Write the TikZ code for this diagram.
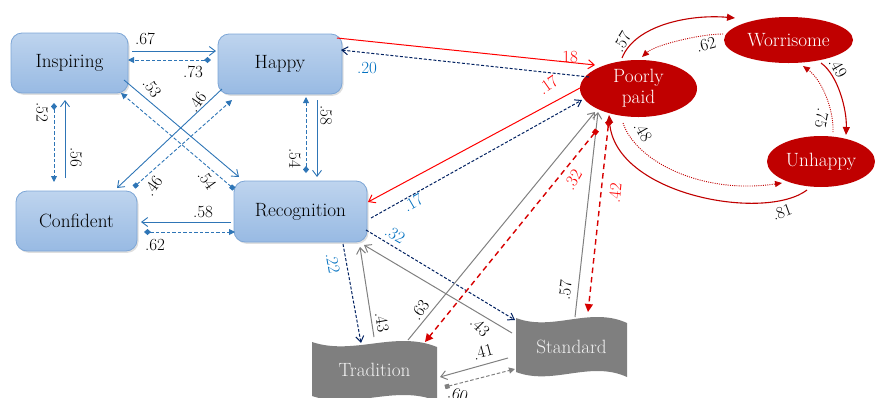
\documentclass[tikz,border=0pt]{standalone}
\usepackage{fontspec}
\usetikzlibrary{arrows.meta,calc,shapes.geometric,shadows}
\definecolor{blueln}{RGB}{46,117,182}
\definecolor{navyln}{RGB}{0,32,96}
\definecolor{redln}{RGB}{255,0,0}
\definecolor{dred}{RGB}{192,0,0}
\definecolor{dashred}{RGB}{215,0,0}
\definecolor{grayln}{RGB}{128,128,128}
\definecolor{waveg}{RGB}{127,127,127}
\definecolor{wavetext}{RGB}{242,242,242}
\definecolor{boxtop}{RGB}{190,212,238}
\definecolor{boxbot}{RGB}{152,186,227}
\definecolor{boxdraw}{RGB}{125,166,214}
\definecolor{bluelab}{RGB}{0,112,192}
\definecolor{redlab}{RGB}{255,0,0}
\newcommand\nodefnt{\rmfamily\fontsize{19.2}{21}\selectfont}
\newcommand\labfnt{\rmfamily\fontsize{17}{19}\selectfont}
\begin{document}
\begin{tikzpicture}[x=1pt,y=-1pt,
  bbox/.style={rectangle, rounded corners=11pt, draw=boxdraw, line width=0.8pt,
    top color=boxtop, bottom color=boxbot, font=\nodefnt, inner sep=0pt,
    drop shadow={shadow xshift=1.5pt, shadow yshift=-1.8pt, opacity=0.25}},
  redell/.style={ellipse, fill=dred, text=white, font=\nodefnt, inner sep=0pt, align=center},
  wavetxt/.style={rectangle, text=wavetext, font=\nodefnt, inner sep=0pt},
  lab/.style={font=\labfnt, inner sep=0pt},
  opentip/.style={-{Straight Barb[length=6pt,width=9pt]}},
  bsol/.style={draw=blueln, line width=0.9pt, opentip},
  bdashd/.style={draw=blueln, line width=0.9pt, dash pattern=on 3.5pt off 2pt,
    arrows={Diamond[length=7pt,width=6pt]-Triangle[length=6pt,width=6pt]}},
  bdashs/.style={draw=blueln, line width=0.9pt, dash pattern=on 3.5pt off 2pt,
    arrows={Square[length=4.5pt,width=4.5pt]-Triangle[length=6pt,width=6pt]}},
  rsol/.style={draw=redln, line width=1pt, opentip},
  ndash/.style={draw=navyln, line width=1pt, dash pattern=on 3pt off 1.8pt,
    -{Straight Barb[length=6pt,width=8pt]}},
  gsol/.style={draw=grayln, line width=1pt, opentip},
  gdash/.style={draw=grayln, line width=1pt, dash pattern=on 3.5pt off 2pt,
    arrows={Square[length=4.5pt,width=4.5pt]-Triangle[length=6pt,width=6pt]}},
  rdashs/.style={draw=dashred, line width=1.4pt, dash pattern=on 5.5pt off 4pt,
    arrows={Square[length=5pt,width=5pt]-Triangle[length=8pt,width=8pt]}},
  rdashd/.style={draw=dashred, line width=1.4pt, dash pattern=on 5.5pt off 4pt,
    arrows={Diamond[length=8pt,width=7pt]-Triangle[length=8pt,width=8pt]}},
  csol/.style={draw=dred, line width=1.1pt, -{Triangle[length=8pt,width=7pt]}},
  cdot/.style={draw=dred, line width=0.9pt, dash pattern=on 1pt off 1.2pt,
    -{Triangle[length=7pt,width=6pt]}}
]
\useasboundingbox (0,0) rectangle (875,397);

% ---- boxes ----
\node[bbox, minimum width=117pt, minimum height=60pt] (insp) at (69.5,63) {Inspiring};
\node[bbox, minimum width=124pt, minimum height=60pt] (happy) at (280,64) {Happy};
\node[bbox, minimum width=121pt, minimum height=60pt] (conf) at (76.5,221) {Confident};
\node[bbox, minimum width=133pt, minimum height=61pt] (rec) at (300.5,211.5) {Recognition};

% ---- ellipses ----
\node[redell, minimum width=117pt, minimum height=57pt, inner ysep=-8pt] (pp) at (638.5,88.5) {Poorly\\paid};
\node[redell, minimum width=129pt, minimum height=46pt] (wor) at (788.5,40) {Worrisome};
\node[redell, minimum width=108pt, minimum height=51pt] (unh) at (821,161.5) {Unhappy};

% ---- wave shapes ----
\fill[waveg] (516,318) .. controls (553,332) and (590,306) .. (627,323) -- (627,377)
  .. controls (590,360) and (553,386) .. (516,372) -- cycle;
\node[wavetxt] (stand) at (571.5,347) {Standard};
\fill[waveg] (312,342) .. controls (354,356) and (395,330) .. (437,347) -- (437,401)
  .. controls (395,384) and (354,410) .. (312,396) -- cycle;
\node[wavetxt] (trad) at (374.5,370) {Tradition};

% ---- blue group connectors ----
\draw[bsol] ($(insp.center)+(62.5,-12)$) -- ($(happy.center)+(-64,-13)$);
\draw[bdashd] ($(happy.center)+(-69,-4)$) -- ($(insp.center)+(58.5,-3)$);
\draw[bdashd] ($(insp.center)+(-15.5,40)$) -- ($(conf.center)+(-22.5,-39)$);
\draw[bsol] ($(conf.center)+(-11.5,-43)$) -- ($(insp.center)+(-4.5,37)$);
\draw[bsol] ($(insp.center)+(54.5,17)$) -- ($(rec.center)+(-61.5,-34.5)$);
\draw[bdashs] ($(rec.center)+(-66.5,-22.5)$) -- ($(insp.center)+(51.5,30)$);
\draw[bsol] ($(happy.center)+(-58,25)$) -- ($(conf.center)+(40.5,-33)$);
\draw[bdashs] ($(conf.center)+(57.5,-34)$) -- ($(happy.center)+(-48,36)$);
\draw[bsol] ($(happy.center)+(37,36)$) -- ($(rec.center)+(16.5,-34.5)$);
\draw[bdashd] ($(rec.center)+(5.5,-38.5)$) -- ($(happy.center)+(26,33)$);
\draw[bsol] ($(rec.center)+(-69.5,10.5)$) -- ($(conf.center)+(64.5,1)$);
\draw[bdashd] ($(conf.center)+(67.5,11)$) -- ($(rec.center)+(-65.5,20.5)$);

% ---- links to Poorly paid ----
\draw[rsol] ($(happy.center)+(57,-26)$) -- ($(pp.center)+(-43.5,-23.5)$);
\draw[ndash] ($(pp.center)+(-49.5,-11.5)$) -- ($(happy.center)+(61,-14)$);
\draw[rsol] ($(pp.center)+(-58.5,-0.5)$) -- ($(rec.center)+(67.5,-9.5)$);
\draw[ndash] ($(rec.center)+(70.5,6.5)$) -- ($(pp.center)+(-56.5,11.5)$);

% ---- links to Tradition / Standard ----
\draw[ndash] ($(rec.center)+(65.5,18.5)$) -- ($(stand.center)+(-56.5,-27)$);
\draw[ndash] ($(rec.center)+(42.5,32.5)$) -- ($(trad.center)+(-13.5,-27)$);
\draw[gsol] ($(trad.center)+(-0.5,-33)$) -- ($(rec.center)+(59.5,35.5)$);
\draw[gsol] ($(stand.center)+(-59.5,-14)$) -- ($(rec.center)+(63.5,33.5)$);
\draw[gsol] ($(trad.center)+(33.5,-30)$) -- ($(pp.center)+(-43.5,23.5)$);
\draw[gsol] ($(stand.center)+(3.5,-30)$) -- ($(pp.center)+(-40.5,23.5)$);
\draw[rdashs] ($(pp.center)+(-41.5,41.5)$) -- ($(trad.center)+(50.5,-28)$);
\draw[rdashd] ($(pp.center)+(-29.5,30.5)$) -- ($(stand.center)+(16.5,-35)$);
\draw[gsol] ($(stand.center)+(-63.5,11)$) -- ($(trad.center)+(65.5,7)$);
\draw[gdash] ($(trad.center)+(70.5,17)$) -- ($(stand.center)+(-56.5,22)$);

% ---- red cluster ----
\draw[csol] ($(pp.center)+(-16.5,-30.5)$) .. controls (635,25) and (690,14) .. ($(wor.center)+(-53.5,-22)$);
\draw[cdot] ($(wor.center)+(-65.5,-6)$) .. controls (700,34) and (655,45) .. ($(pp.center)+(3.5,-31.5)$);
\draw[csol] ($(wor.center)+(32.5,23)$) .. controls (838,75) and (847,110) .. ($(unh.center)+(25,-26.5)$);
\draw[cdot] ($(unh.center)+(12,-29.5)$) .. controls (834,110) and (822,80) .. ($(wor.center)+(14.5,26)$);
\draw[cdot] ($(pp.center)+(-15.5,34.5)$) .. controls (635,160) and (700,195) .. ($(unh.center)+(-39,21.5)$);
\draw[csol] ($(unh.center)+(-14,28.5)$) .. controls (765,222) and (615,195) .. ($(pp.center)+(-29.5,26.5)$);

% ---- labels ----
\node[lab] (l67) at (145,39) {.67};
\node[lab] (l73) at (193,72) {.73};
\node[lab, rotate=-90] (l52) at (42,112) {.52};
\node[lab, rotate=-90] (l56) at (76,157) {.56};
\node[lab, rotate=-55] (l53) at (152,88) {.53};
\node[lab, rotate=55] (l46a) at (197,102) {.46};
\node[lab, rotate=-55] (l54a) at (207,180) {.54};
\node[lab, rotate=55] (l46b) at (153,186) {.46};
\node[lab, rotate=-90] (l58a) at (326,115) {.58};
\node[lab, rotate=-90] (l54b) at (295,158) {.54};
\node[lab] (l58b) at (203,212) {.58};
\node[lab] (l62a) at (155,245) {.62};

\node[lab, text=redlab] (l18) at (568,57) {.18};
\node[lab, text=bluelab] (l20) at (367,68) {.20};
\node[lab, text=redlab, rotate=35] (l17a) at (548,85) {.17};
\node[lab, text=bluelab, rotate=30] (l17b) at (413,203) {.17};
\node[lab, text=bluelab, rotate=-30] (l32a) at (395,235) {.32};
\node[lab, text=bluelab, rotate=-80] (l22) at (333,263) {.22};
\node[lab, rotate=-80] (l43a) at (382,322) {.43};
\node[lab, rotate=-45] (l43b) at (480,327) {.43};
\node[lab, rotate=55] (l63) at (420,310) {.63};
\node[lab, rotate=84] (l57a) at (565,290) {.57};
\node[lab, text=redlab, rotate=60] (l32b) at (573,180) {.32};
\node[lab, text=redlab, rotate=84] (l42) at (615,193) {.42};
\node[lab, rotate=15] (l41) at (483,352) {.41};
\node[lab, rotate=-15] (l60) at (458,395) {.60};

\node[lab, rotate=60] (l57b) at (622,42) {.57};
\node[lab, rotate=15] (l62b) at (706,45) {.62};
\node[lab, rotate=-60] (l49) at (838,68) {.49};
\node[lab, rotate=-100] (l75) at (822,118) {.75};
\node[lab, rotate=-60] (l48) at (643,132) {.48};
\node[lab, rotate=20] (l81) at (782,212) {.81};
\end{tikzpicture}
\end{document}
